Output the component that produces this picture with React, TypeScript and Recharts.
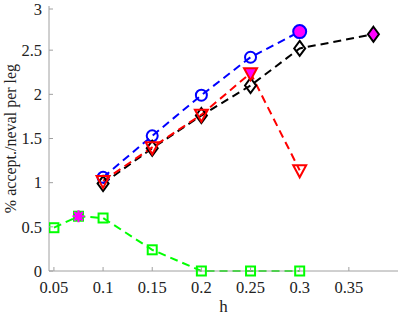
import React from 'react';
import { LineChart, Line, XAxis, YAxis } from 'recharts';

const hBlue = [0.1, 0.15, 0.2, 0.25, 0.3];
const blueVals = [1.06, 1.53, 1.99, 2.42, 2.71];
const blueHighlight = 4;

const hBlack = [0.1, 0.15, 0.2, 0.25, 0.3, 0.375];
const blackVals = [0.99, 1.39, 1.76, 2.1, 2.52, 2.68];
const blackHighlight = 5;

const hRed = [0.1, 0.15, 0.2, 0.25, 0.3];
const redVals = [1.02, 1.4, 1.77, 2.24, 1.14];
const redHighlight = 3;

const hGreen = [0.05, 0.075, 0.1, 0.15, 0.2, 0.25, 0.3];
const greenVals = [0.49, 0.62, 0.6, 0.24, 0, 0, 0];
const greenHighlight = 1;

const xTicks = [0.05, 0.1, 0.15, 0.2, 0.25, 0.3, 0.35];
const yTicks = [0, 0.5, 1, 1.5, 2, 2.5, 3];

const toRows = (xs: number[], ys: number[]) => xs.map((h, i) => ({ h, v: ys[i] }));
const blueData = toRows(hBlue, blueVals);
const blackData = toRows(hBlack, blackVals);
const redData = toRows(hRed, redVals);
const greenData = toRows(hGreen, greenVals);

const FONT = '"Liberation Serif", "Times New Roman", serif';
const AXIS = '#a0a0a0';
const MAG = '#ff00ff';
const TXT = { fontFamily: FONT };

const circleDot = (p: any) => {
  const hl = p.index === blueHighlight;
  return (
    <circle key={`c${p.index}`} cx={p.cx} cy={p.cy} r={hl ? 6.5 : 5.5}
      fill={hl ? MAG : 'none'} stroke="#0000ff" strokeWidth={2} />
  );
};
const diamondDot = (p: any) => {
  const hl = p.index === blackHighlight;
  const { cx, cy } = p;
  const w = 5.5, hh = 7.5;
  return (
    <path key={`d${p.index}`} d={`M${cx},${cy - hh}L${cx + w},${cy}L${cx},${cy + hh}L${cx - w},${cy}Z`}
      fill={hl ? MAG : 'none'} stroke="#000" strokeWidth={2} />
  );
};
const triDot = (p: any) => {
  const hl = p.index === redHighlight;
  const { cx, cy } = p;
  return (
    <path key={`t${p.index}`} d={`M${cx - 6.5},${cy - 5}L${cx + 6.5},${cy - 5}L${cx},${cy + 7}Z`}
      fill={hl ? MAG : 'none'} stroke="#ff0000" strokeWidth={2} strokeLinejoin="miter" />
  );
};
const squareDot = (p: any) => {
  const hl = p.index === greenHighlight;
  const { cx, cy } = p;
  if (hl) {
    const r = 6;
    const d = r * 0.72;
    return (
      <g key={`s${p.index}`}>
        <rect x={cx - 4.5} y={cy - 4.5} width={9} height={9} fill={MAG} stroke="#00ff00" strokeWidth={2} />
        <path d={`M${cx - r},${cy}L${cx + r},${cy}M${cx},${cy - r}L${cx},${cy + r}M${cx - d},${cy - d}L${cx + d},${cy + d}M${cx - d},${cy + d}L${cx + d},${cy - d}`}
          stroke={MAG} strokeWidth={2.2} />
      </g>
    );
  }
  return (
    <rect key={`s${p.index}`} x={cx - 4.5} y={cy - 4.5} width={9} height={9}
      fill="none" stroke="#00ff00" strokeWidth={2} />
  );
};

const fmt = (v: number) => String(v);

const BottomTick = (p: any) => (
  <g>
    <line x1={p.x} x2={p.x} y1={p.y} y2={p.y - 4} stroke={AXIS} strokeWidth={1} />
    <text x={p.x} y={p.y + 22} textAnchor="middle" style={TXT} fontSize={16.5} fill="#222">
      {fmt(p.payload.value)}
    </text>
  </g>
);
const TopTick = (p: any) => (
  <line x1={p.x} x2={p.x} y1={p.y} y2={p.y + 4} stroke={AXIS} strokeWidth={1} />
);
const LeftTick = (p: any) => (
  <g>
    <line x1={p.x} x2={p.x + 4} y1={p.y} y2={p.y} stroke={AXIS} strokeWidth={1} />
    <text x={p.x - 7} y={p.y} dy="0.35em" textAnchor="end" style={TXT} fontSize={16.5} fill="#222">
      {fmt(p.payload.value)}
    </text>
  </g>
);
const RightTick = (p: any) => (
  <line x1={p.x} x2={p.x - 4} y1={p.y} y2={p.y} stroke={AXIS} strokeWidth={1} />
);

const XLabel = (p: any) => {
  const vb = p.viewBox;
  return (
    <text x={vb.x + vb.width / 2} y={vb.y + 41} textAnchor="middle" style={TXT} fontSize={17} fill="#222">h</text>
  );
};
const YLabel = (p: any) => {
  const vb = p.viewBox;
  const cx = 16;
  const cy = vb.y + vb.height / 2;
  return (
    <text x={cx} y={cy} transform={`rotate(-90 ${cx} ${cy})`} textAnchor="middle" style={TXT} fontSize={16} fill="#222">
      % accept./neval per leg
    </text>
  );
};

export default function App() {
  const dash = '8 5';
  return (
    <div style={{ position: 'absolute', left: 0, top: 0, width: 399, height: 316, background: '#fff' }}>
      <LineChart width={399} height={316} margin={{ top: 6, right: 1, left: 0, bottom: 0 }}>
        <XAxis xAxisId="b" dataKey="h" type="number" domain={[0.045, 0.4]} allowDataOverflow
          ticks={xTicks} tick={BottomTick} tickLine={false} tickSize={0} tickMargin={0}
          stroke={AXIS} height={45} orientation="bottom" label={<XLabel />} />
        <XAxis xAxisId="t" dataKey="h" type="number" domain={[0.045, 0.4]} allowDataOverflow
          ticks={xTicks} tick={TopTick} tickLine={false} tickSize={0} tickMargin={0}
          stroke={AXIS} height={0} orientation="top" />
        <YAxis yAxisId="l" type="number" domain={[0, 3]} ticks={yTicks} tick={LeftTick}
          tickLine={false} tickSize={0} tickMargin={0} stroke={AXIS} width={49} orientation="left"
          label={<YLabel />} />
        <YAxis yAxisId="r" type="number" domain={[0, 3]} ticks={yTicks} tick={RightTick}
          tickLine={false} tickSize={0} tickMargin={0} stroke={AXIS} width={0} orientation="right" />
        <Line xAxisId="b" yAxisId="l" data={blueData} dataKey="v" stroke="#0000ff" strokeWidth={2}
          strokeDasharray={dash} dot={circleDot} activeDot={false} isAnimationActive={false} />
        <Line xAxisId="b" yAxisId="l" data={blackData} dataKey="v" stroke="#000" strokeWidth={2}
          strokeDasharray={dash} dot={diamondDot} activeDot={false} isAnimationActive={false} />
        <Line xAxisId="b" yAxisId="l" data={redData} dataKey="v" stroke="#ff0000" strokeWidth={2}
          strokeDasharray={dash} dot={triDot} activeDot={false} isAnimationActive={false} />
        <Line xAxisId="b" yAxisId="l" data={greenData} dataKey="v" stroke="#00ff00" strokeWidth={2}
          strokeDasharray={dash} dot={squareDot} activeDot={false} isAnimationActive={false} />
      </LineChart>
    </div>
  );
}
